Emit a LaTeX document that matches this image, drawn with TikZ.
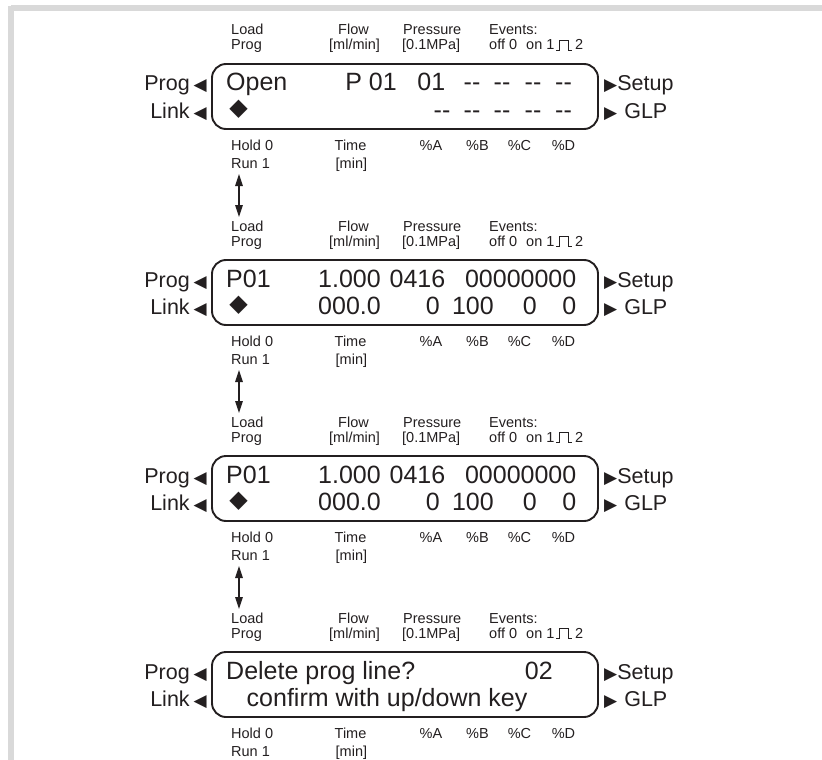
\documentclass[tikz,border=0pt]{standalone}
\usepackage{fontspec}
\setmainfont{Liberation Sans}
\newfontfamily\dejavu{DejaVu Sans}
\usetikzlibrary{arrows.meta}
\definecolor{ink}{HTML}{231F20}
\definecolor{framegrey}{HTML}{D9D9D9}
\tikzset{
  lbl/.style={inner sep=0pt, text=ink, font=\fontsize{14.5}{16}\selectfont},
  lcdtxt/.style={inner sep=0pt, text=ink, font=\fontsize{25}{28}\selectfont},
  keytxt/.style={inner sep=0pt, text=ink, font=\fontsize{21.5}{24}\selectfont},
  lcdbox/.style={draw=ink, line width=1.9pt, rounded corners=14pt, minimum width=386pt, minimum height=65pt, inner sep=0pt},
  updown/.style={draw=ink, line width=1.2pt, {Triangle[length=12pt,width=7.5pt]}-{Triangle[length=12pt,width=7.5pt]}},
  pulseline/.style={draw=ink, line width=0.9pt},
}
\newcommand\tri{\dejavu\fontsize{17}{17}\selectfont}
\newcommand\dia{{\dejavu\fontsize{24}{24}\selectfont ◆}}
\newcommand\lcdframe[3]{%
\begin{scope}[shift={(0,#2)}]
 \node[lbl, anchor=base west] (load#1) at (231,35) {Load};
 \node[lbl, anchor=base west] (prgl#1) at (231,50) {Prog};
 \node[lbl, anchor=base west] (flow#1) at (338,35) {Flow};
 \node[lbl, anchor=base west] (mlmin#1) at (329,50) {[ml/min]};
 \node[lbl, anchor=base west] (press#1) at (403,35) {Pressure};
 \node[lbl, anchor=base west] (mpa#1) at (402,50) {[0.1MPa]};
 \node[lbl, anchor=base west] (events#1) at (489,35) {Events:};
 \node[lbl, anchor=base west] (off#1) at (489,50) {off 0};
 \node[lbl, anchor=base west] (on#1) at (526,50) {on 1};
 \draw[pulseline] (556,50) -- (559.5,50) -- (559.5,40) -- (568,40) -- (568,50) -- (572,50);
 \node[lbl, anchor=base west] (two#1) at (575,50) {2};
 \node[lcdbox] (box#1) at (405,96.5) {};
 \node[keytxt, anchor=base east] (kprog#1) at (207,91) {Prog\kern4pt{\tri ◀}};
 \node[keytxt, anchor=base east] (klink#1) at (207,118) {Link\kern4pt{\tri ◀}};
 \node[keytxt, anchor=base west] (ksetup#1) at (604,91) {{\tri ▶}Setup};
 \node[keytxt, anchor=base west] (kglp#1) at (604,118) {{\tri ▶}\kern7pt GLP};
 \node[lbl, anchor=base west] (hold#1) at (231,150) {Hold 0};
 \node[lbl, anchor=base west] (run#1) at (231,168.5) {Run 1};
 \node[lbl, anchor=base west] (time#1) at (334.5,150) {Time};
 \node[lbl, anchor=base west] (min#1) at (335.5,168.5) {[min]};
 \node[lbl, anchor=base] (pa#1) at (431,150) {\%A};
 \node[lbl, anchor=base] (pb#1) at (477.5,150) {\%B};
 \node[lbl, anchor=base] (pc#1) at (519.5,150) {\%C};
 \node[lbl, anchor=base] (pd#1) at (563.5,150) {\%D};
 #3
\end{scope}}
\newcommand\valuerows[1]{%
 \node[lcdtxt, anchor=base west] (p#1) at (226,91) {P01};
 \node[lcdtxt, anchor=base east] (fl#1) at (381,91) {1.000};
 \node[lcdtxt, anchor=base east] (pr#1) at (445.5,91) {0416};
 \node[lcdtxt, anchor=base east] (ev#1) at (576.5,91) {00000000};
 \node[lcdtxt] (dia#1) at (238.5,109.5) {\dia};
 \node[lcdtxt, anchor=base east] (tm#1) at (381,118) {000.0};
 \node[lcdtxt, anchor=base east] (va#1) at (440,118) {0};
 \node[lcdtxt, anchor=base east] (vb#1) at (494,118) {100};
 \node[lcdtxt, anchor=base east] (vc#1) at (537,118) {0};
 \node[lcdtxt, anchor=base east] (vd#1) at (576.5,118) {0};
}
\begin{document}
\begin{tikzpicture}[x=1pt,y=-1pt]
\useasboundingbox (0,0) rectangle (822,760);
\fill[framegrey] (11,5) rectangle (822,11);
\fill[framegrey] (8,6) rectangle (14,760);

\lcdframe{a}{0}{
 \node[lcdtxt, anchor=base west] (opena) at (226,91) {Open};
 \node[lcdtxt, anchor=base east] (pnra) at (397,91) {P 01};
 \node[lcdtxt, anchor=base east] (lnra) at (445.5,91) {01};
 \node[lcdtxt, anchor=base west] (d1a) at (463.5,91) {-{}-};
 \node[lcdtxt, anchor=base west] (d2a) at (493.5,91) {-{}-};
 \node[lcdtxt, anchor=base west] (d3a) at (524.5,91) {-{}-};
 \node[lcdtxt, anchor=base west] (d4a) at (555,91) {-{}-};
 \node[lcdtxt] (diaa) at (238.5,109.5) {\dia};
 \node[lcdtxt, anchor=base west] (e1a) at (433.5,118) {-{}-};
 \node[lcdtxt, anchor=base west] (e2a) at (463.5,118) {-{}-};
 \node[lcdtxt, anchor=base west] (e3a) at (493.5,118) {-{}-};
 \node[lcdtxt, anchor=base west] (e4a) at (524.5,118) {-{}-};
 \node[lcdtxt, anchor=base west] (e5a) at (555,118) {-{}-};
}
\lcdframe{b}{196}{\valuerows{b}}
\lcdframe{c}{392}{\valuerows{c}}
\lcdframe{d}{588}{
 \node[lcdtxt, anchor=base west] (deld) at (226,91) {Delete prog line?};
 \node[lcdtxt, anchor=base east] (lnrd) at (553,91) {02};
 \node[lcdtxt, anchor=base west] (confd) at (246.5,118) {confirm with up/down key};
}

\coordinate (up1) at (239,174);  \coordinate (dn1) at (239,217);
\coordinate (up2) at (239,370);  \coordinate (dn2) at (239,413);
\coordinate (up3) at (239,566);  \coordinate (dn3) at (239,609);
\draw[updown] (up1) -- (dn1);
\draw[updown] (up2) -- (dn2);
\draw[updown] (up3) -- (dn3);
\end{tikzpicture}
\end{document}
